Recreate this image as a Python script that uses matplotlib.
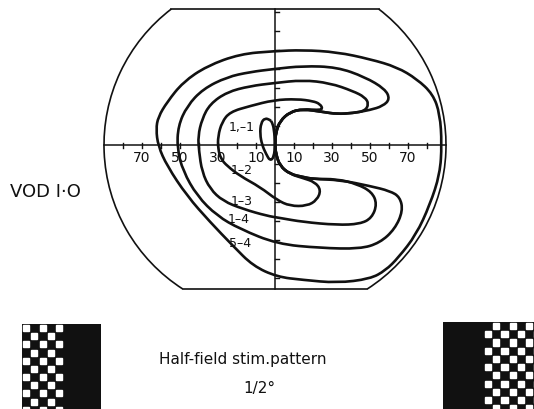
"""Visual field isopters for a half-field pattern stimulus"""

import matplotlib
matplotlib.use("Agg")
import matplotlib.pyplot as plt
import numpy as np
from matplotlib.path import Path
from matplotlib.patches import PathPatch, Arc, Rectangle

# isopters, (x, y) in degrees from fixation
ISO_54 = [(-0.5, 49.4), (14.7, 50.0), (32.6, 48.9), (50.0, 45.2), (64.2, 41.0),
          (74.7, 34.7), (83.1, 26.8), (86.8, 16.3), (87.8, 0.5), (86.8, -15.3),
          (81.5, -31.5), (74.3, -47.2), (64.9, -59.3), (58.2, -66.0), (50.0, -70.5),
          (32.6, -72.6), (14.7, -71.0), (1.1, -69.4), (-11.6, -63.6), (-22.1, -53.1),
          (-34.2, -40.5), (-46.3, -26.8), (-56.8, -11.0), (-61.5, -0.5), (-62.6, 8.4),
          (-61.5, 14.7), (-56.8, 22.6), (-48.4, 33.1), (-35.8, 41.6), (-18.4, 47.9)]

ISO_14 = [(0.0, 0.5), (0.5, 6.8), (2.6, 12.6), (7.9, 17.4), (14.7, 18.9), (25.2, 17.4),
          (32.6, 16.3), (41.0, 16.8), (50.0, 18.4), (56.8, 20.5), (60.5, 24.2),
          (57.9, 29.5), (47.3, 35.8), (32.6, 41.0), (14.7, 41.6), (-0.5, 40.0),
          (-13.2, 38.4), (-25.2, 35.8), (-37.9, 29.5), (-46.3, 20.5), (-51.0, 10.0),
          (-51.5, -2.1), (-48.4, -13.7), (-41.0, -26.8), (-30.5, -37.3), (-18.4, -44.2),
          (1.1, -52.1), (23.7, -54.2), (44.7, -54.7), (55.2, -51.5), (63.1, -44.2),
          (67.3, -34.7), (65.8, -27.4), (60.5, -24.2), (50.0, -21.6), (34.2, -18.4),
          (20.0, -17.9), (14.7, -16.8), (7.9, -15.3), (2.6, -11.0), (0.5, -4.7)]

ISO_13 = [(0.0, 0.5), (0.5, 6.8), (2.6, 12.6), (7.9, 17.4), (14.7, 18.9), (25.2, 17.4),
          (32.6, 16.3), (41.0, 16.8), (47.3, 17.9), (49.4, 21.6), (47.3, 25.2),
          (41.0, 28.4), (28.9, 32.6), (14.7, 34.2), (-0.5, 32.6), (-13.2, 31.0),
          (-25.2, 27.9), (-34.2, 21.6), (-38.4, 13.7), (-40.5, 4.7), (-40.0, -3.2),
          (-38.4, -14.2), (-34.2, -23.1), (-27.4, -29.5), (-16.8, -33.7), (-4.2, -37.3),
          (2.6, -38.4), (14.7, -40.5), (32.6, -42.1), (44.7, -41.6), (51.0, -38.4),
          (53.7, -31.0), (51.0, -24.7), (43.1, -20.5), (32.6, -17.9), (20.0, -17.9),
          (14.7, -16.8), (7.9, -15.3), (2.6, -11.0), (0.5, -4.7)]

ISO_12 = [(0.0, 0.5), (0.5, 6.8), (2.6, 12.6), (7.9, 17.4), (14.7, 18.9), (22.6, 18.4),
          (25.2, 18.9), (23.7, 21.6), (20.0, 23.1), (11.6, 24.2), (-0.5, 23.7),
          (-13.2, 20.5), (-23.7, 17.4), (-27.9, 12.1), (-30.0, 4.7), (-30.0, -2.1),
          (-28.4, -7.4), (-25.2, -11.0), (-18.4, -16.3), (-7.9, -22.1), (1.1, -29.0),
          (7.9, -32.1), (16.8, -32.1), (22.1, -29.0), (24.2, -23.7), (21.0, -19.5),
          (14.7, -17.4), (7.9, -15.3), (2.6, -11.0), (0.5, -4.7)]

ISO_11 = [(-2.6, 13.2), (-5.3, 14.2), (-7.4, 11.6), (-7.9, 5.8), (-6.8, 0.0),
          (-4.7, -4.7), (-2.6, -8.4), (-0.5, -6.3), (0.0, 0.5), (-0.5, 8.4), (-1.6, 12.1)]

ISO_NAMES = ["1,\u20131", "1\u20132", "1\u20133", "1\u20134", "5\u20134"]
NAME_X = [-17.4, -17.5, -17.5, -19.0, -18.4]
NAME_Y = [10.0, -12.9, -29.0, -38.6, -51.5]

TICK_VALUES = [10, 30, 50, 70]

# perimeter chart frame (degrees)
R = 90
TOP = 71.6
BOTTOM = -75.8

INK = "#111111"


def smooth_closed(pts):
    # quadratic bezier through the midpoints, vertices act as control points
    pts = np.asarray(pts, float)
    mids = (pts + np.roll(pts, -1, axis=0)) / 2
    verts = [mids[-1]]
    codes = [Path.MOVETO]
    for i in range(len(pts)):
        verts += [pts[i], mids[i]]
        codes += [Path.CURVE3, Path.CURVE3]
    return Path(verts, codes)


fig = plt.figure(figsize=(5.34, 4.10), dpi=100)
ax = fig.add_axes([0, 0, 1, 1])
ax.set_xlim(-275 / 1.9, 259 / 1.9)
ax.set_ylim(-264 / 1.9, 146 / 1.9)
ax.axis("off")

# frame: circle cut by two chords
t_top = np.degrees(np.arcsin(TOP / R))
t_bot = np.degrees(np.arcsin(BOTTOM / R))
ax.add_patch(Arc((0, 0), 2 * R, 2 * R, theta1=t_bot, theta2=t_top, color=INK, lw=1.2))
ax.add_patch(Arc((0, 0), 2 * R, 2 * R, theta1=180 - t_top, theta2=180 - t_bot, color=INK, lw=1.2))
w_top = np.sqrt(R ** 2 - TOP ** 2)
w_bot = np.sqrt(R ** 2 - BOTTOM ** 2)
ax.plot([-w_top, w_top], [TOP, TOP], color=INK, lw=1.2)
ax.plot([-w_bot, w_bot], [BOTTOM, BOTTOM], color=INK, lw=1.2)

# meridians with degree ticks
ax.plot([-R, R], [0, 0], color=INK, lw=1.1)
ax.plot([0, 0], [BOTTOM, TOP], color=INK, lw=1.1)
for d in range(10, 90, 10):
    for s in (-1, 1):
        ax.plot([s * d, s * d], [-1.4, 1.0], color=INK, lw=1.0)
for d in range(10, 80, 10):
    for s in (-1, 1):
        ax.plot([0, 2.2], [s * d, s * d], color=INK, lw=1.0)
for v in TICK_VALUES:
    for s in (-1, 1):
        ax.text(s * v, -6.3, str(v), ha="center", va="center", fontsize=10, color=INK)

# isopters
for iso in (ISO_54, ISO_14, ISO_13, ISO_12, ISO_11):
    ax.add_patch(PathPatch(smooth_closed(iso), fill=False, edgecolor=INK, lw=1.9,
                           joinstyle="round"))
for name, x, y in zip(ISO_NAMES, NAME_X, NAME_Y):
    ax.text(x, y, name, ha="center", va="center", fontsize=9, color=INK)

ax.text(-139.5, -24.2, "VOD I\u00b7O", ha="left", va="center", fontsize=13, color=INK)
ax.text(-16.8, -112.5, "Half-field stim.pattern", ha="center", va="center",
        fontsize=11, color=INK)
ax.text(-8.4, -127.5, "1/2\u00b0", ha="center", va="center", fontsize=11, color=INK)


# stimulus patterns
def checker_box(rect, n_cols, n_rows, check_cols):
    bx = fig.add_axes(rect)
    bx.set_xlim(0, n_cols)
    bx.set_ylim(0, n_rows)
    bx.axis("off")
    bx.add_patch(Rectangle((0, 0), n_cols, n_rows, color=INK))
    for c in check_cols:
        for r in range(int(np.ceil(n_rows))):
            if (c + r) % 2 == 0:
                bx.add_patch(Rectangle((c + 0.13, n_rows - r - 0.87), 0.74, 0.74,
                                       color="white"))


checker_box([22 / 534, 0, 79 / 534, 85 / 410], 9.6, 10.4, range(0, 5))
checker_box([443 / 534, 0, 91 / 534, 87 / 410], 11.1, 10.6, range(5, 12))

fig.savefig("out.png", dpi=100, facecolor="white")
